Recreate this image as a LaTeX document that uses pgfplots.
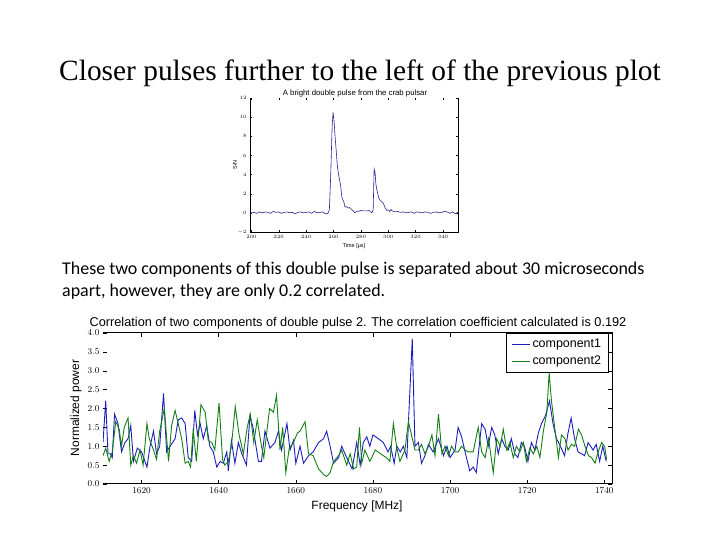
\documentclass[border=0pt]{standalone}
\usepackage{pgfplots}
\pgfplotsset{compat=1.18}
\usepackage{fontspec}
\setmainfont{Liberation Serif}
\newfontfamily\bodyfont{Carlito}
\newfontfamily\plotfont{Liberation Sans}

\definecolor{mplblue}{RGB}{30,30,190}
\definecolor{mplgreen}{RGB}{20,128,20}
\definecolor{pulseblue}{RGB}{40,40,150}

\begin{document}
\begin{tikzpicture}
\path[fill=white] (0bp,0bp) rectangle (720bp,540bp);

% slide title and text
\node[anchor=base] at (360bp,459bp) {\fontsize{29.5}{32}\selectfont Closer pulses further to the left of the previous plot};
\node[anchor=base west, inner sep=0pt] at (62bp,265bp) {\bodyfont\fontsize{18}{22}\selectfont These two components of this double pulse is separated about 30 microseconds};
\node[anchor=base west, inner sep=0pt] at (62bp,243bp) {\bodyfont\fontsize{18}{22}\selectfont apart, however, they are only 0.2 correlated.};

% ---- upper plot: the pulse profile
\begin{axis}[
    at={(250bp,308bp)}, anchor=south west,
    scale only axis, width=208bp, height=134bp,
    xmin=199, xmax=351, ymin=-2, ymax=12,
    xtick={200,220,...,340}, ytick={-2,0,...,12},
    axis line style={draw=none},
    tick align=inside, major tick length=2bp,
    tick style={black, line width=0.4bp},
    tick label style={font=\fontsize{5}{6}\selectfont},
  ]
\addplot[pulseblue, line width=0.6bp] coordinates {
(199,0.0) (200,0.0) (202,0.05) (204,-0.05) (206,0.1) (208,0.0) (210,0.1) (212,0.05)
(214,-0.05) (216,0.15) (218,0.05) (220,0.1) (222,-0.05) (224,0.05) (226,0.1) (228,0.0)
(230,0.05) (232,-0.1) (234,0.05) (236,0.1) (238,0.0) (240,0.05) (242,0.1) (244,-0.05)
(246,0.15) (248,0.0) (250,0.05) (252,0.1) (254,-0.1) (256,-0.05) (257,0.3) (258,4.0)
(259,9.0) (259.7,10.5) (260.5,9.5) (261,8.3) (262,6.5) (262.7,5.1) (263.5,4.2) (264.5,3.4)
(265.2,2.9) (266,1.8) (266.4,1.5) (267.5,1.2) (268.4,0.6) (269.5,0.65) (270.8,0.5) (272,0.55)
(273.3,0.35) (274.5,0.2) (275.7,0.0) (277,0.2) (278.2,0.15) (280,0.25) (282,0.2) (284.3,0.2)
(286,0.25) (288,0.0) (289,0.3) (289.7,4.6) (290.4,4.2) (291,3.0) (291.7,2.4) (293,1.6)
(294.1,1.3) (295.5,1.1) (296.5,1.0) (297.5,0.6) (299,0.25) (300,0.3) (301,0.15) (302,0.35)
(303,0.2) (305,0.1) (307,0.15) (309,0.05) (311,0.1) (313,0.0) (315,0.05) (317,0.1)
(319,-0.05) (321,0.1) (323,0.05) (325,0.0) (327,0.1) (329,0.05) (331,-0.05) (333,0.05)
(335,0.1) (337,0.0) (339,0.05) (341,0.15) (343,0.1) (345,-0.05) (347,0.1) (349,-0.1) (351,0.05)
};
\end{axis}
\draw[line width=0.6bp] (250bp,442bp) -- (250bp,308bp) -- (458bp,308bp) -- (458bp,442bp);
\node[anchor=base] at (355bp,444bp) {\plotfont\fontsize{7.8}{9}\selectfont A bright double pulse from the crab pulsar};
\node[rotate=90] at (235bp,375bp) {\plotfont\fontsize{5.5}{6}\selectfont S/N};
\node[anchor=base] at (354bp,292bp) {\plotfont\fontsize{5.5}{6}\selectfont Time [µs]};

% ---- lower plot: the two spectra
\begin{axis}[
    at={(103bp,56bp)}, anchor=south west,
    scale only axis, width=509bp, height=151bp,
    xmin=1610, xmax=1742, ymin=0, ymax=4,
    xtick={1620,1640,...,1740}, ytick={0,0.5,...,4},
    xticklabel style={/pgf/number format/.cd, set thousands separator={}},
    yticklabel style={/pgf/number format/.cd, fixed, fixed zerofill, precision=1},
    axis line style={draw=none},
    tick align=inside, major tick length=4bp,
    tick style={black, line width=0.5bp},
    tick label style={font=\fontsize{9}{10}\selectfont},
    legend style={at={(0.993,1)}, anchor=north east, draw=black, line width=0.8bp,
      font=\plotfont\fontsize{12.5}{14}\selectfont, inner xsep=5bp, inner ysep=4bp,
      row sep=2.5bp},
    legend cell align=left,
    legend image code/.code={\draw[#1, line width=1bp] (0bp,0bp) -- (18bp,0bp);},
  ]
\addplot[mplblue, line width=0.9bp] coordinates {
(1610.0,1.1) (1610.7,2.2) (1611.3,0.8) (1611.9,0.8) (1612.4,0.7) (1613.0,1.85) (1613.9,1.6)
(1614.8,0.85) (1615.7,1.1) (1616.5,1.2) (1617.2,1.55) (1617.9,0.6) (1618.9,0.95) (1620.0,0.85)
(1621.4,0.45) (1622.2,1.0) (1623.1,1.4) (1623.9,0.8) (1624.7,1.0) (1625.7,2.4) (1626.5,0.85)
(1627.4,1.0) (1628.7,1.2) (1629.5,1.7) (1630.4,1.75) (1631.3,1.6) (1632.1,0.7) (1633.0,0.6)
(1633.8,1.95) (1634.5,1.3) (1635.2,1.6) (1636.0,1.2) (1636.9,1.55) (1637.7,1.0) (1638.6,0.85)
(1639.5,0.45) (1640.4,0.6) (1641.2,0.55) (1642.1,0.85) (1642.5,0.35) (1643.3,1.15) (1644.2,0.55)
(1645.1,1.1) (1646.0,0.8) (1647.2,0.5) (1648.1,1.8) (1648.9,1.5) (1650.3,0.6) (1651.1,0.6)
(1652.0,1.4) (1653.3,0.95) (1654.6,1.1) (1655.5,1.4) (1656.3,0.9) (1657.7,1.6) (1658.5,0.9)
(1659.4,1.15) (1660.0,0.55) (1661.1,1.0) (1662.0,0.55) (1663.3,0.75) (1664.5,0.85) (1665.9,1.1)
(1667.2,1.2) (1668.0,1.4) (1668.9,1.0) (1669.8,0.55) (1671.1,0.7) (1671.9,1.0) (1673.2,0.7)
(1674.6,0.4) (1675.8,1.1) (1676.7,0.5) (1677.5,1.1) (1678.4,1.25) (1679.2,1.0) (1680.0,1.3)
(1681.4,1.2) (1682.7,1.1) (1683.9,0.85) (1684.6,1.0) (1685.5,0.55) (1686.2,1.0) (1687.1,0.85)
(1687.9,1.0) (1688.8,0.7) (1690.2,3.85) (1690.9,1.0) (1691.8,1.1) (1692.6,0.55) (1693.5,0.75)
(1694.4,1.05) (1695.6,0.85) (1697.0,1.2) (1698.3,0.75) (1699.2,1.0) (1700.0,0.7) (1701.3,0.9)
(1702.1,1.5) (1703.0,1.25) (1703.9,0.85) (1705.1,0.35) (1706.0,0.45) (1706.8,0.3) (1708.2,1.6)
(1709.1,1.45) (1709.9,1.0) (1710.8,1.5) (1711.6,1.3) (1712.5,0.8) (1713.4,1.2) (1714.2,1.0)
(1715.1,0.9) (1715.9,1.2) (1716.8,0.8) (1717.6,0.7) (1718.5,1.1) (1719.3,1.0) (1720.2,0.6)
(1721.1,1.1) (1722.0,0.9) (1722.9,1.35) (1723.7,1.6) (1724.7,1.8) (1725.8,2.2) (1726.7,1.6)
(1727.6,1.2) (1728.4,1.05) (1729.7,0.75) (1730.5,1.3) (1731.4,1.75) (1732.3,1.2) (1733.2,0.85)
(1734.1,0.8) (1734.9,0.75) (1735.8,1.1) (1737.1,0.9) (1737.9,1.05) (1738.8,0.6) (1739.6,1.0)
(1740.5,0.6)
};
\addplot[mplgreen, line width=0.9bp] coordinates {
(1610.0,0.75) (1610.7,0.95) (1611.6,0.6) (1612.4,0.85) (1613.3,1.65) (1614.2,1.45) (1614.8,1.0)
(1615.5,1.5) (1616.5,1.75) (1617.2,0.5) (1617.9,0.75) (1618.7,0.55) (1619.6,0.9) (1620.4,0.5)
(1621.4,1.6) (1622.0,1.2) (1623.1,0.9) (1623.9,0.65) (1624.7,1.4) (1625.9,2.0) (1627.0,0.6)
(1627.8,1.55) (1628.7,1.95) (1629.5,1.6) (1630.4,1.2) (1631.3,0.55) (1632.1,0.6) (1632.7,0.45)
(1633.4,1.45) (1634.2,0.6) (1635.4,2.1) (1636.5,1.9) (1637.3,1.15) (1638.2,1.1) (1639.0,0.9)
(1640.1,2.15) (1641.0,0.65) (1641.6,0.5) (1642.5,0.6) (1643.3,1.0) (1644.3,2.05) (1645.3,1.3)
(1646.4,0.8) (1647.4,1.5) (1648.2,1.85) (1649.1,1.1) (1650.0,1.7) (1651.1,1.0) (1651.7,0.7)
(1653.2,2.0) (1654.2,1.9) (1655.0,2.35) (1655.9,0.9) (1656.6,1.5) (1657.4,0.3) (1658.3,0.95)
(1659.4,1.1) (1660.4,1.35) (1661.1,1.4) (1662.4,1.65) (1663.3,0.8) (1664.5,0.75) (1665.9,0.4)
(1667.2,0.25) (1668.0,0.2) (1668.9,0.3) (1669.8,0.6) (1671.1,0.75) (1671.9,0.9) (1673.2,0.5)
(1674.1,0.8) (1675.0,0.4) (1675.8,0.45) (1676.5,1.5) (1677.1,0.55) (1677.9,0.9) (1679.2,0.6)
(1680.6,0.9) (1682.7,0.75) (1683.5,0.7) (1684.4,0.6) (1685.3,1.6) (1686.2,0.95) (1687.0,0.6)
(1688.3,0.9) (1689.2,1.65) (1690.0,1.3) (1690.9,0.9) (1691.8,0.9) (1692.6,1.05) (1693.5,0.8)
(1694.4,1.0) (1695.3,1.3) (1696.1,0.75) (1697.0,1.85) (1697.9,0.8) (1698.7,1.0) (1699.6,0.75)
(1700.4,1.0) (1701.3,0.85) (1702.1,0.85) (1703.0,1.0) (1703.9,0.9) (1704.7,0.85) (1706.0,0.85)
(1707.3,1.5) (1708.2,0.85) (1709.1,0.7) (1710.0,1.2) (1711.2,0.3) (1712.1,1.2) (1713.0,1.0)
(1713.8,1.45) (1714.7,0.9) (1715.5,1.1) (1716.4,0.7) (1717.2,1.0) (1718.1,0.85) (1719.0,1.1)
(1719.8,0.6) (1720.7,0.95) (1721.6,0.8) (1722.5,1.0) (1723.3,0.7) (1724.2,1.4) (1725.1,1.9)
(1725.7,2.95) (1726.3,2.2) (1727.2,1.45) (1728.1,0.7) (1728.9,1.3) (1729.8,1.2) (1730.6,0.9)
(1731.5,1.05) (1732.3,1.0) (1733.3,1.45) (1734.1,1.3) (1735.0,1.0) (1735.9,0.75) (1736.7,0.7)
(1737.6,0.55) (1738.4,0.85) (1739.3,1.1) (1740.1,1.0) (1740.6,0.65)
};
\legend{component1, component2}
\end{axis}
\draw[line width=1bp] (103bp,56bp) -- (612bp,56bp) -- (612bp,207bp) -- (103bp,207bp);
\node[anchor=base] at (358bp,213.5bp) {\plotfont\fontsize{12.8}{15}\selectfont Correlation of two components of double pulse 2. The correlation coefficient calculated is 0.192};
\node[rotate=90] at (76bp,132bp) {\plotfont\fontsize{12}{14}\selectfont Normalized power};
\node[anchor=base] at (357bp,31bp) {\plotfont\fontsize{12}{14}\selectfont Frequency [MHz]};
\end{tikzpicture}
\end{document}
